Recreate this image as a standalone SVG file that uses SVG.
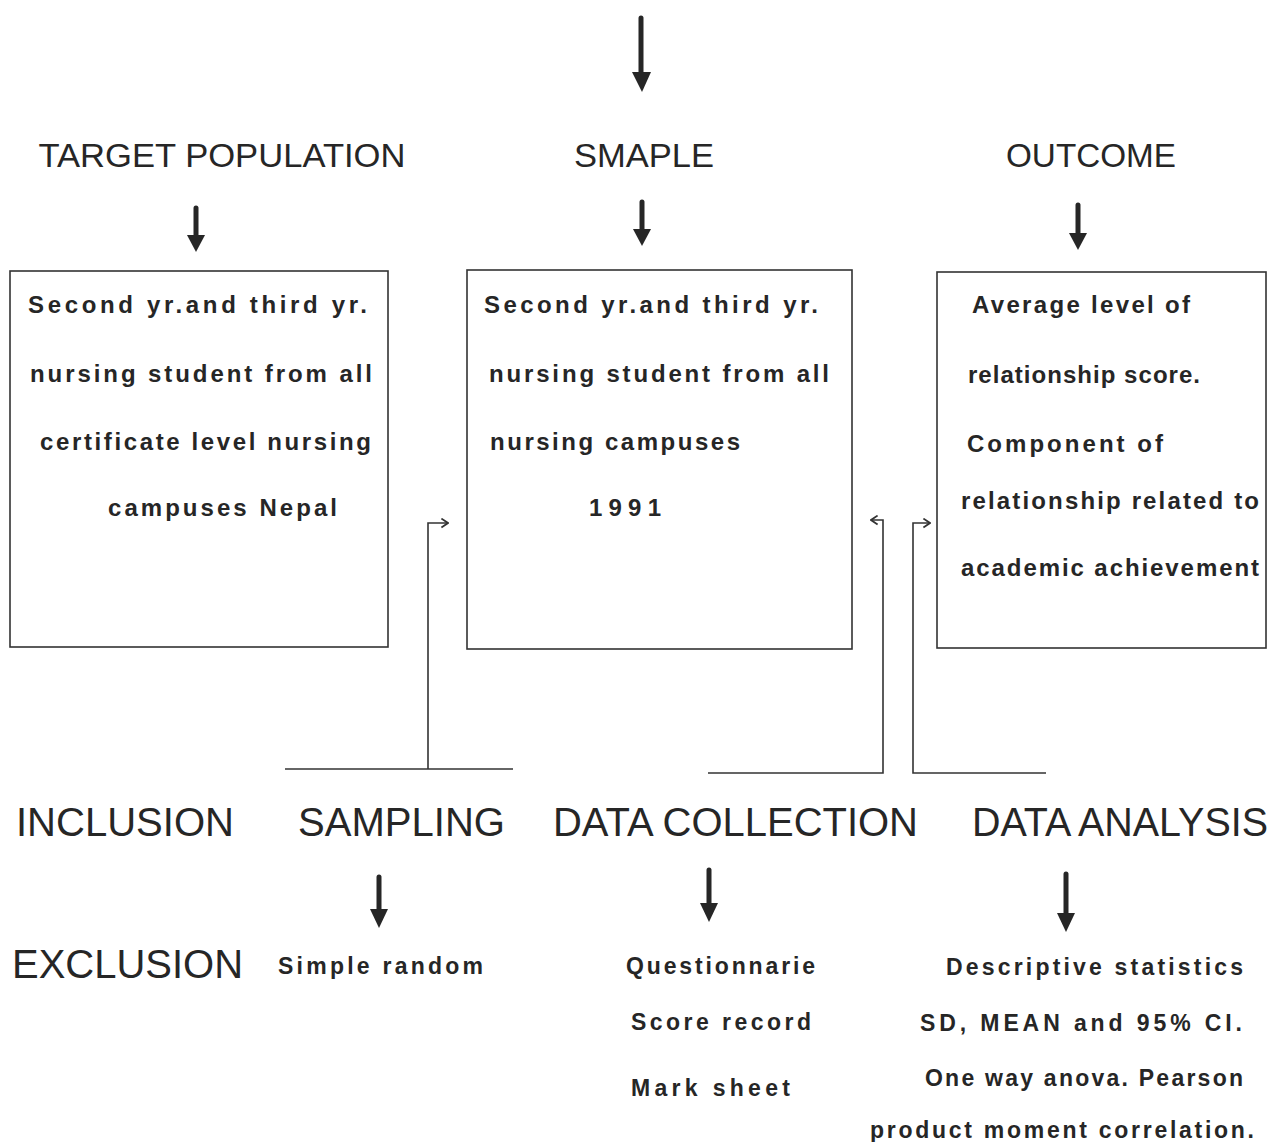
<svg xmlns="http://www.w3.org/2000/svg" width="1282" height="1142" viewBox="0 0 1282 1142">
<defs>
<style>
.bg{fill:#ffffff}
.box{fill:none;stroke:#333;stroke-width:1.6}
.conn{fill:none;stroke:#333;stroke-width:1.6}
.shaft{stroke:#262626;stroke-width:5;stroke-linecap:round}
.head{fill:#262626}
.h1{font-family:"Liberation Sans",Arial,sans-serif;font-size:33px;fill:#262626}
.h2{font-family:"Liberation Sans",Arial,sans-serif;font-size:40px;fill:#262626}
.t{font-family:"Liberation Sans",Arial,sans-serif;font-size:24px;font-weight:bold;fill:#262626}
.t2{font-family:"Liberation Sans",Arial,sans-serif;font-size:23px;font-weight:bold;fill:#262626}
</style>
<marker id="chev" viewBox="0 0 10 10" refX="9" refY="5" markerWidth="11" markerHeight="11" markerUnits="userSpaceOnUse" orient="auto">
<path d="M3,1 L9,5 L3,9" fill="none" stroke="#333" stroke-width="1.6"/>
</marker>
</defs>
<rect class="bg" x="0" y="0" width="1282" height="1142"/>

<g id="top-arrow">
<line class="shaft" x1="641" y1="18" x2="641" y2="76"/>
<polygon class="head" points="632,72 651,72 642,92"/>
</g>

<g id="target-population">
<text class="h1" x="222" y="167" text-anchor="middle" textLength="367" lengthAdjust="spacingAndGlyphs">TARGET POPULATION</text>
<line class="shaft" x1="196" y1="208" x2="196" y2="238"/>
<polygon class="head" points="187,235 205,235 196,252"/>
<rect class="box" x="10" y="271" width="378" height="376"/>
<text class="t" x="28" y="313" textLength="339" lengthAdjust="spacing">Second yr.and third yr.</text>
<text class="t" x="30" y="382" textLength="342" lengthAdjust="spacing">nursing student from all</text>
<text class="t" x="40" y="450" textLength="331" lengthAdjust="spacing">certificate level nursing</text>
<text class="t" x="108" y="516" textLength="229" lengthAdjust="spacing">campuses Nepal</text>
</g>

<g id="sample">
<text class="h1" x="644" y="167" text-anchor="middle" textLength="140" lengthAdjust="spacingAndGlyphs">SMAPLE</text>
<line class="shaft" x1="642" y1="202" x2="642" y2="232"/>
<polygon class="head" points="633,229 651,229 642,246"/>
<rect class="box" x="467" y="270" width="385" height="379"/>
<text class="t" x="484" y="313" textLength="334" lengthAdjust="spacing">Second yr.and third yr.</text>
<text class="t" x="489" y="382" textLength="340" lengthAdjust="spacing">nursing student from all</text>
<text class="t" x="490" y="450" textLength="250" lengthAdjust="spacing">nursing campuses</text>
<text class="t" x="589" y="516" textLength="72" lengthAdjust="spacing">1991</text>
</g>

<g id="outcome">
<text class="h1" x="1091" y="167" text-anchor="middle" textLength="170" lengthAdjust="spacingAndGlyphs">OUTCOME</text>
<line class="shaft" x1="1078" y1="205" x2="1078" y2="236"/>
<polygon class="head" points="1069,233 1087,233 1078,250"/>
<rect class="box" x="937" y="272" width="329" height="376"/>
<text class="t" x="972" y="313" textLength="218" lengthAdjust="spacing">Average level of</text>
<text class="t" x="968" y="383" textLength="232" lengthAdjust="spacing">relationship score.</text>
<text class="t" x="967" y="452" textLength="196" lengthAdjust="spacing">Component of</text>
<text class="t" x="961" y="509" textLength="298" lengthAdjust="spacing">relationship related to</text>
<text class="t" x="961" y="576" textLength="298" lengthAdjust="spacing">academic achievement</text>
</g>

<g id="connectors">
<path class="conn" d="M285,769 H513"/>
<path class="conn" d="M428,769 V523 H448" marker-end="url(#chev)"/>
<path class="conn" d="M708,773 H883 V520 H871" marker-end="url(#chev)"/>
<path class="conn" d="M1046,773 H913 V523 H930" marker-end="url(#chev)"/>
</g>

<g id="inclusion">
<text class="h2" x="16" y="836" textLength="218" lengthAdjust="spacingAndGlyphs">INCLUSION</text>
</g>

<g id="exclusion">
<text class="h2" x="12" y="978" textLength="231" lengthAdjust="spacingAndGlyphs">EXCLUSION</text>
</g>

<g id="sampling">
<text class="h2" x="298" y="836" textLength="207" lengthAdjust="spacingAndGlyphs">SAMPLING</text>
<line class="shaft" x1="379" y1="877" x2="379" y2="912"/>
<polygon class="head" points="370,909 388,909 379,928"/>
<text class="t2" x="278" y="974" textLength="205" lengthAdjust="spacing">Simple random</text>
</g>

<g id="data-collection">
<text class="h2" x="553" y="836" textLength="365" lengthAdjust="spacingAndGlyphs">DATA COLLECTION</text>
<line class="shaft" x1="709" y1="870" x2="709" y2="906"/>
<polygon class="head" points="700,903 718,903 709,922"/>
<text class="t2" x="626" y="974" textLength="189" lengthAdjust="spacing">Questionnarie</text>
<text class="t2" x="631" y="1030" textLength="180" lengthAdjust="spacing">Score record</text>
<text class="t2" x="631" y="1096" textLength="159" lengthAdjust="spacing">Mark sheet</text>
</g>

<g id="data-analysis">
<text class="h2" x="972" y="836" textLength="296" lengthAdjust="spacingAndGlyphs">DATA ANALYSIS</text>
<line class="shaft" x1="1066" y1="874" x2="1066" y2="916"/>
<polygon class="head" points="1057,913 1075,913 1066,932"/>
<text class="t2" x="946" y="975" textLength="297" lengthAdjust="spacing">Descriptive statistics</text>
<text class="t2" x="920" y="1031" textLength="322" lengthAdjust="spacing">SD, MEAN and 95% CI.</text>
<text class="t2" x="925" y="1086" textLength="318" lengthAdjust="spacing">One way anova. Pearson</text>
<text class="t2" x="870" y="1138" textLength="384" lengthAdjust="spacing">product moment correlation.</text>
</g>
</svg>
